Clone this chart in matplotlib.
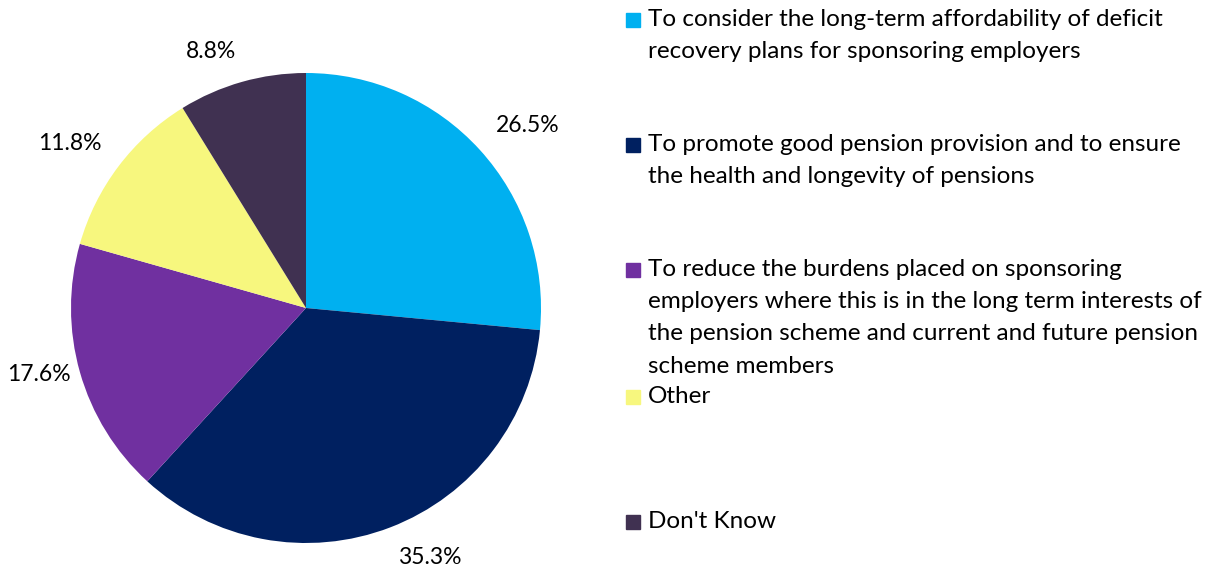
import numpy as np
import matplotlib.pyplot as plt
from matplotlib.patches import Rectangle

plt.rcParams['font.family'] = ['Lato', 'DejaVu Sans']

categories = [
    "To consider the long-term affordability of deficit\nrecovery plans for sponsoring employers",
    "To promote good pension provision and to ensure\nthe health and longevity of pensions",
    "To reduce the burdens placed on sponsoring\nemployers where this is in the long term interests of\nthe pension scheme and current and future pension\nscheme members",
    "Other",
    "Don't Know",
]
shares = [26.5, 35.3, 17.6, 11.8, 8.8]
colors = ["#00B0F0", "#002060", "#7030A0", "#F7F77E", "#403151"]

W, H = 1229, 569
fig = plt.figure(figsize=(W / 100, H / 100), dpi=100)

# pie axes: centre ~ (306, 308) px, radius ~235 px
r_px = 235
cx, cy = 306, H - 308
ax = fig.add_axes([(cx - r_px) / W, (cy - r_px) / H, 2 * r_px / W, 2 * r_px / H])
wedges, _ = ax.pie(shares, colors=colors, startangle=90, counterclock=False,
                   radius=1.0, wedgeprops=dict(linewidth=0))
ax.set_xlim(-1, 1)
ax.set_ylim(-1, 1)
ax.set_aspect("equal")

# percentage labels just outside each slice, anchored away from the centre
for w, val in zip(wedges, shares):
    ang = np.deg2rad((w.theta1 + w.theta2) / 2)
    c, s = np.cos(ang), np.sin(ang)
    ha = "left" if c > 0 else "right"
    if abs(s) < 0.5:
        va, dist = "center", 1.04
    else:
        va, dist = ("bottom" if s > 0 else "top"), 1.09
    ax.text(dist * c, dist * s, f"{val:.1f}%", ha=ha, va=va, fontsize=16.5,
            color="#000000", clip_on=False)

# legend drawn by hand: evenly spaced entries, text top-aligned with its box
legend_tops = [20, 145, 270, 397, 522]
for label, col, y in zip(categories, colors, legend_tops):
    fig.patches.append(Rectangle((626 / W, (H - y - 7) / H), 14 / W, 14 / H,
                                 transform=fig.transFigure, color=col))
    fig.text(648 / W, (H - y + 11) / H, label, fontsize=17.5, va="top", ha="left",
             linespacing=1.66, color="#000000")

fig.savefig("out.png", dpi=100)
